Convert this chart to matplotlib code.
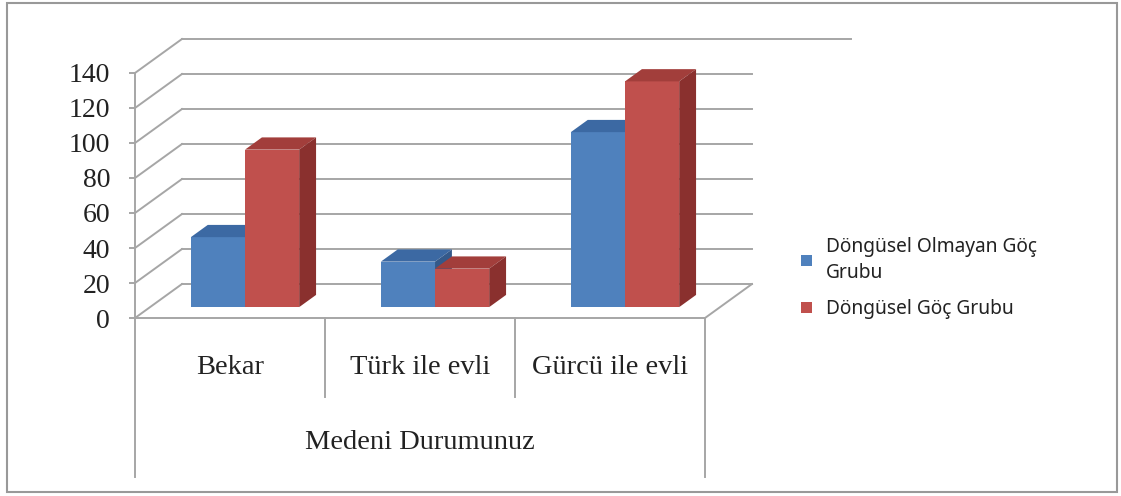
import matplotlib.pyplot as plt
from matplotlib.patches import Polygon, Patch, Rectangle

# data
categories = ["Bekar", "Türk ile evli", "Gürcü ile evli"]
group_title = "Medeni Durumunuz"
series_names = ["Döngüsel Olmayan Göç\nGrubu", "Döngüsel Göç Grubu"]
non_cyclic = [40, 26, 100]
cyclic = [90, 22, 129]
yticks = [0, 20, 40, 60, 80, 100, 120, 140]

front_colors = ["#4F81BD", "#C0504D"]
top_colors = ["#3C69A3", "#A23E3B"]
side_colors = ["#34598A", "#8A302E"]
grid_col = "#A6A6A6"
text_col = "#222222"

# fake 3d: shift per unit of depth, in data units
DX, DY = 0.247, 19.4
D0, D1 = 0.32, 0.68      # depth of bar front / back
BW = 0.285                # bar width (category = 1)
GAP = 0.215


def proj(x, y, d):
    return (x + d * DX, y + d * DY)


fig = plt.figure(figsize=(11.21, 4.96), dpi=100)
ax = fig.add_axes([0, 0, 1, 1])
ax.set_xlim(-135 / 190, 986 / 190)
ax.set_ylim(-101.7, 181.7)

ncat = len(categories)
ymax = yticks[-1]

# back wall gridlines + left wall diagonals
for v in yticks:
    xe = ncat + (0.52 if v == ymax else 0)
    ax.plot(*zip(proj(0, v, 1), proj(xe, v, 1)), color=grid_col, lw=1.4, zorder=1)
    ax.plot(*zip(proj(0, v, 0), proj(0, v, 1)), color=grid_col, lw=1.4, zorder=1)

# floor edges
ax.plot(*zip(proj(0, 0, 0), proj(ncat, 0, 0)), color=grid_col, lw=1.4, zorder=1)
ax.plot(*zip(proj(ncat, 0, 0), proj(ncat, 0, 1)), color=grid_col, lw=1.4, zorder=1)

# category dividers below the floor
for k in range(ncat + 1):
    bottom = -91 if k in (0, ncat) else -45
    ax.plot([k, k], [0, bottom], color=grid_col, lw=1.4, zorder=1)

# bars
for i in range(ncat):
    for s, vals in enumerate([non_cyclic, cyclic]):
        h = vals[i]
        x0 = i + GAP + s * BW
        x1 = x0 + BW
        front = [proj(x0, 0, D0), proj(x1, 0, D0), proj(x1, h, D0), proj(x0, h, D0)]
        top = [proj(x0, h, D0), proj(x1, h, D0), proj(x1, h, D1), proj(x0, h, D1)]
        side = [proj(x1, 0, D0), proj(x1, 0, D1), proj(x1, h, D1), proj(x1, h, D0)]
        ax.add_patch(Polygon(front, closed=True, fc=front_colors[s], ec="none", zorder=3))
        ax.add_patch(Polygon(top, closed=True, fc=top_colors[s], ec="none", zorder=3))
        ax.add_patch(Polygon(side, closed=True, fc=side_colors[s], ec="none", zorder=3))

# value axis as a real spine at x = 0
for sp in ["top", "right", "bottom"]:
    ax.spines[sp].set_visible(False)
ax.spines["left"].set_position(("data", 0))
ax.spines["left"].set_bounds(0, ymax)
ax.spines["left"].set_color(grid_col)
ax.spines["left"].set_linewidth(1.4)
ax.set_xticks([])
ax.set_yticks(yticks)
ax.set_yticklabels([str(t) for t in yticks], fontfamily="Liberation Serif", fontsize=20)
ax.tick_params(axis="y", length=4, color=grid_col, width=1.4, pad=14, labelcolor=text_col)

# category labels
for i, c in enumerate(categories):
    ax.text(i + 0.5, -28.5, c, ha="center", va="center",
            fontfamily="Liberation Serif", fontsize=20.5, color=text_col)
ax.text(ncat / 2, -71, group_title, ha="center", va="center",
        fontfamily="Liberation Serif", fontsize=20.5, color=text_col)

# legend
handles = [Patch(fc=c, ec="none") for c in front_colors]
fig.legend(handles, series_names, loc="upper left", bbox_to_anchor=(801 / 1121, 1 - 237 / 496),
           frameon=False, prop={"family": "Noto Sans", "size": 13.8},
           handlelength=0.55, handleheight=0.55, handletextpad=0.75,
           labelspacing=0.85, borderpad=0, borderaxespad=0, labelcolor=text_col)
for t in fig.legends[0].get_texts():
    t.set_linespacing(1.4)

# outer chart border
fig.patches.append(Rectangle((7 / 1121, 1 - 492 / 496), 1110 / 1121, 489 / 496,
                             transform=fig.transFigure, fill=False,
                             ec="#999999", lw=1.5))

fig.savefig("out.png", dpi=100)
